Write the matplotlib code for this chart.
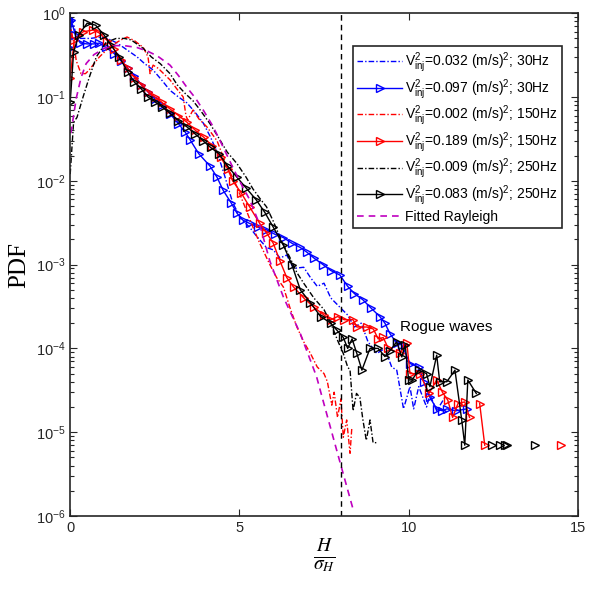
import numpy as np
import matplotlib
matplotlib.use("Agg")
import matplotlib.pyplot as plt

plt.rcParams["font.family"] = ["Liberation Sans", "DejaVu Sans"]
plt.rcParams["mathtext.fontset"] = "custom"
plt.rcParams["mathtext.rm"] = "Liberation Sans"
plt.rcParams["mathtext.it"] = "Liberation Sans:italic"

nan = np.nan

# ---- data (H/sigma_H, PDF) ----
b1_x = [0.0, 0.05, 0.15, 0.3, 0.6, 0.9, 1.1, 1.39, 1.7, 1.98, 2.2, 2.45, 2.7, 2.95, 3.2, 3.45,
        3.7, 3.93, 4.15, 4.34, 4.55, 4.8, 5.05, 5.3, 5.5, 5.8, 6.0, 6.2, 6.4, 6.6, 6.9, 7.1,
        7.3, 7.5, 7.7, 7.97, 8.2, 8.4, 8.6, 8.8, 9.06, 9.3, 9.5, 9.65, 9.85, 10.04, 10.15,
        10.3, 10.53, 10.63, 10.83, 11.07]
b1_y = [0.5, 0.9, 0.6, 0.5, 0.5, 0.52, 0.5, 0.44, 0.36, 0.3, 0.25, 0.21, 0.16, 0.12, 0.1, 0.085,
        0.065, 0.049, 0.033, 0.022, 0.012, 5.5e-3, 3.5e-3, 2.8e-3, 2.2e-3, 1.6e-3, 1.5e-3, 1.2e-3,
        1.3e-3, 9e-4, 9.3e-4, 7e-4, 5.5e-4, 6e-4, 4e-4, 3.1e-4, 2.5e-4, 1.8e-4, 2e-4, 1.2e-4,
        8.7e-5, 1.0e-4, 6e-5, 5.5e-5, 1.9e-5, 3.5e-5, 1.9e-5, 3.5e-5, 2e-5, 2.8e-5, 1.8e-5, 2.6e-5]

b2_x = [0.0, 0.03, 0.15, 0.3, 0.5, 0.7, 0.86, 1.06, 1.3, 1.5, 1.7, 1.9, 2.1, 2.3, 2.5, 2.7,
        2.95, 3.2, 3.4, 3.54, 3.8, 4.13, 4.34, 4.52, 4.75, 4.93, 5.1, 5.3, 5.55, 5.8, 6.05, 6.3,
        6.55, 6.8, 7.0, 7.2, 7.47, 7.7, 7.97, 8.2, 8.4, 8.65, 8.9, 9.15, 9.3, 9.45, 9.65, 9.8,
        10.04, 10.3, 10.45, 10.63, 10.83, 11.0, 11.13, 11.4, 11.72]
b2_y = [0.38, 0.83, 0.55, 0.44, 0.43, 0.43, 0.44, 0.39, 0.33, 0.27, 0.22, 0.18, 0.14, 0.115,
        0.095, 0.08, 0.063, 0.048, 0.038, 0.031, 0.021, 0.015, 0.011, 7.7e-3, 5.5e-3, 4.1e-3,
        3.4e-3, 3.1e-3, 2.8e-3, 2.6e-3, 2.3e-3, 2.1e-3, 1.8e-3, 1.6e-3, 1.4e-3, 1.2e-3, 1.0e-3,
        8.5e-4, 7.5e-4, 5.5e-4, 4.5e-4, 3.8e-4, 3e-4, 2.4e-4, 2.0e-4, 1.5e-4, 1.15e-4, 1.1e-4,
        6.6e-5, 6e-5, 4e-5, 2.6e-5, 1.9e-5, 1.8e-5, 1.9e-5, 1.8e-5, 1.9e-5]

r1_x = [0.0, 0.03, 0.1, 0.18, 0.32, 0.45, 0.56, 0.86, 1.15, 1.3, 1.5, 1.68, 1.9, 2.16, 2.3,
        2.36, 2.45, 2.6, 2.95, 3.15, 3.34, 3.42, 3.47, 3.63, 3.8, 4.04, 4.34, 4.6, 4.9, 5.2,
        5.4, 5.6, 5.9, 6.1, 6.3, 6.5, 6.7, 6.9, 7.1, 7.3, 7.5, 7.6, 7.73, 7.8, 7.9, 8.0, 8.07,
        8.17, 8.27, 8.32]
r1_y = [0.5, 0.63, 0.45, 0.27, 0.19, 0.19, 0.21, 0.3, 0.39, 0.43, 0.48, 0.52, 0.47, 0.39, 0.3,
        0.19, 0.24, 0.22, 0.16, 0.125, 0.1, 0.06, 0.053, 0.07, 0.055, 0.044, 0.03, 0.016, 9e-3,
        4.5e-3, 2.8e-3, 1.8e-3, 1.0e-3, 7e-4, 5.4e-4, 3e-4, 1.8e-4, 1.2e-4, 8.7e-5, 6e-5, 5e-5,
        4e-5, 2.1e-5, 3e-5, 1.5e-5, 2.5e-5, 8.7e-6, 1.4e-5, 5.6e-6, 1.1e-5]

r2_x = [0.0, 0.12, 0.38, 0.68, 0.86, 1.1, 1.3, 1.5, 1.7, 1.9, 2.1, 2.3, 2.5, 2.7, 2.95, 3.2,
        3.45, 3.7, 3.95, 4.2, 4.45, 4.65, 4.8, 5.05, 5.3, 5.6, 5.8, 6.0, 6.2, 6.4, 6.6, 6.9, 7.2,
        7.5, 7.7, 7.9, 8.1, 8.36, 8.47, 8.77, 8.96, 9.1, 9.25, 9.4, 9.74, 9.95, 10.04, 10.33,
        10.6, 10.83, 11.0, 11.16, 11.3, 11.46, 11.66, 11.8, nan, 12.1, 12.25, nan, 14.5]
r2_y = [0.17, 0.48, 0.6, 0.63, 0.58, 0.47, 0.37, 0.28, 0.22, 0.17, 0.14, 0.115, 0.1, 0.087,
        0.072, 0.06, 0.05, 0.04, 0.033, 0.026, 0.019, 0.014, 0.01, 7.2e-3, 4.9e-3, 3.1e-3,
        2.4e-3, 1.8e-3, 1.1e-3, 7e-4, 5.4e-4, 4e-4, 3.1e-4, 2.5e-4, 2.2e-4, 2.4e-4, 2.2e-4,
        2.2e-4, 1.8e-4, 1.8e-4, 1.7e-4, 1.3e-4, 1.35e-4, 1.0e-4, 8.7e-5, 1.15e-4, 5e-5, 5e-5,
        2.9e-5, 4.2e-5, 3e-5, 2.4e-5, 1.5e-5, 2.2e-5, 2.3e-5, 1.5e-5, nan, 2.2e-5, 7e-6, nan, 7e-6]

k1_x = [0.0, 0.1, 0.2, 0.38, 0.56, 0.77, 1.06, 1.36, 1.6, 1.8, 2.16, 2.4, 2.66, 2.95, 3.16,
        3.4, 3.63, 3.84, 4.13, 4.4, 4.64, 4.93, 5.2, 5.4, 5.6, 5.8, 6.0, 6.25, 6.5, 6.7, 6.9,
        7.2, 7.5, 7.7, 7.9, 8.07, 8.2, 8.27, 8.36, 8.46, 8.56, 8.65, 8.75, 8.86, 8.95, 9.05]
k1_y = [0.012, 0.05, 0.057, 0.1, 0.17, 0.3, 0.45, 0.5, 0.5, 0.48, 0.38, 0.3, 0.25, 0.19, 0.14,
        0.11, 0.09, 0.07, 0.048, 0.032, 0.022, 0.016, 0.011, 8e-3, 6.2e-3, 4.9e-3, 3.3e-3,
        1.9e-3, 1.2e-3, 8e-4, 6e-4, 4e-4, 2.9e-4, 2e-4, 1.25e-4, 8.7e-5, 6e-5, 5.5e-5, 1.8e-5,
        2.9e-5, 2.6e-5, 1.4e-5, 8e-6, 1.4e-5, 7.5e-6, 7.5e-6]

k2_x = [0.0, 0.1, 0.25, 0.5, 0.75, 1.0, 1.2, 1.45, 1.7, 1.9, 2.1, 2.3, 2.5, 2.7, 2.95, 3.2,
        3.45, 3.7, 3.93, 4.15, 4.4, 4.65, 4.93, 5.2, 5.5, 5.75, 6.0, 6.3, 6.55, 6.8, 7.1, 7.4,
        7.7, 7.88, 8.07, 8.2, 8.33, 8.47, 8.62, 8.86, 9.1, 9.3, 9.45, 9.65, 9.8, 9.9, 10.0,
        10.1, 10.3, 10.53, 10.63, 10.83, 10.92, 11.13, 11.37, 11.57, 11.66, 11.75, 12.0, nan,
        12.46, nan, 12.7, nan, 12.84, nan, 12.9, nan, 13.73]
k2_y = [0.087, 0.34, 0.55, 0.76, 0.72, 0.55, 0.42, 0.3, 0.2, 0.15, 0.125, 0.1, 0.088, 0.077,
        0.064, 0.052, 0.044, 0.036, 0.03, 0.025, 0.021, 0.015, 0.011, 8.2e-3, 5.9e-3, 4.2e-3,
        2.8e-3, 1.7e-3, 1.0e-3, 5e-4, 3.5e-4, 2.4e-4, 2.0e-4, 1.65e-4, 1.35e-4, 1.0e-4, 1.3e-4,
        8.7e-5, 5.5e-5, 1.0e-4, 1.0e-4, 8e-5, 9.4e-5, 1.2e-4, 7.9e-5, 1.1e-4, 4.2e-5, 4.2e-5,
        5.5e-5, 5e-5, 3.5e-5, 8.3e-5, 4e-5, 4e-5, 5.5e-5, 1.4e-5, 7e-6, 4.2e-5, 2.9e-5, nan,
        7e-6, nan, 7e-6, nan, 7e-6, nan, 7e-6, nan, 7e-6]

ray_x = [0.02, 0.18, 0.32, 0.47, 0.7, 1.0, 1.3, 1.6, 1.97, 2.3, 2.57, 2.95, 3.2, 3.45, 3.7,
         3.93, 4.2, 4.43, 4.8, 5.0, 5.3, 5.6, 5.9, 6.3, 6.8, 7.28, 7.47, 7.9, 8.36]
ray_y = [0.037, 0.097, 0.17, 0.25, 0.32, 0.38, 0.41, 0.41, 0.39, 0.35, 0.31, 0.24, 0.18, 0.13,
         0.097, 0.07, 0.046, 0.03, 0.0146, 0.01, 6.0e-3, 3.0e-3, 1.1e-3, 4.1e-4, 1.5e-4, 4.6e-5,
         2.4e-5, 5.6e-6, 1.2e-6]

labels = [r"V$^{2}_{\rm inj}$=0.032 (m/s)$^{2}$; 30Hz",
          r"V$^{2}_{\rm inj}$=0.097 (m/s)$^{2}$; 30Hz",
          r"V$^{2}_{\rm inj}$=0.002 (m/s)$^{2}$; 150Hz",
          r"V$^{2}_{\rm inj}$=0.189 (m/s)$^{2}$; 150Hz",
          r"V$^{2}_{\rm inj}$=0.009 (m/s)$^{2}$; 250Hz",
          r"V$^{2}_{\rm inj}$=0.083 (m/s)$^{2}$; 250Hz",
          "Fitted Rayleigh"]
yticks = [1e-6, 1e-5, 1e-4, 1e-3, 1e-2, 1e-1, 1e0]
ytick_labels = ["10$^{-6}$", "10$^{-5}$", "10$^{-4}$", "10$^{-3}$", "10$^{-2}$", "10$^{-1}$",
                "10$^{0}$"]

rogue_x = 8.0

fig = plt.figure(figsize=(6, 6), dpi=100)
ax = fig.add_axes([0.117, 0.14, 0.846, 0.838])

dashdot = (0, (4, 1.5, 1, 1.5))
mk = dict(marker=">", markersize=6, markerfacecolor="none", markeredgewidth=1.0)

ax.plot(b1_x, b1_y, color="b", ls=dashdot, lw=1.0, label=labels[0])
ax.plot(b2_x, b2_y, color="b", ls="-", lw=1.0, markeredgecolor="b", label=labels[1], **mk)
ax.plot(r1_x, r1_y, color="r", ls=dashdot, lw=1.0, label=labels[2])
ax.plot(r2_x, r2_y, color="r", ls="-", lw=1.0, markeredgecolor="r", label=labels[3], **mk)
ax.plot(k1_x, k1_y, color="k", ls=dashdot, lw=1.0, label=labels[4])
ax.plot(k2_x, k2_y, color="k", ls="-", lw=1.0, markeredgecolor="k", label=labels[5], **mk)
ax.plot(ray_x, ray_y, color="m", ls=(0, (4, 3)), lw=1.2, label=labels[6])

ax.axvline(rogue_x, color="k", ls=(0, (4, 3)), lw=1.0)
ax.text(9.75, 1.8e-4, "Rogue waves", fontsize=11, va="center", ha="left")

ax.set_yscale("log")
ax.set_xlim(0, 15)
ax.set_ylim(1e-6, 1)
ax.set_xticks([0, 5, 10, 15])
ax.set_yticks(yticks)
ax.set_yticklabels(ytick_labels)
ax.tick_params(which="both", direction="in", top=True, right=True, labelsize=10.5,
               colors="#262626", width=0.8)
ax.tick_params(which="major", length=5)
ax.tick_params(which="minor", length=3)
for s in ax.spines.values():
    s.set_linewidth(1.2)
    s.set_color("#262626")

ax.set_ylabel("PDF", fontsize=18, family="Liberation Serif", labelpad=4)
ax.set_xlabel(r"$\frac{H}{\sigma_H}$", fontsize=20, labelpad=2, math_fontfamily="stix")

leg = ax.legend(loc="upper right", bbox_to_anchor=(0.968, 0.934), borderaxespad=0,
                fontsize=10, handlelength=3.2, labelspacing=0.15, fancybox=False,
                framealpha=1, edgecolor="#262626", borderpad=0.3, handletextpad=0.2)
leg.get_frame().set_linewidth(1.2)

fig.savefig("out.png", dpi=100)
